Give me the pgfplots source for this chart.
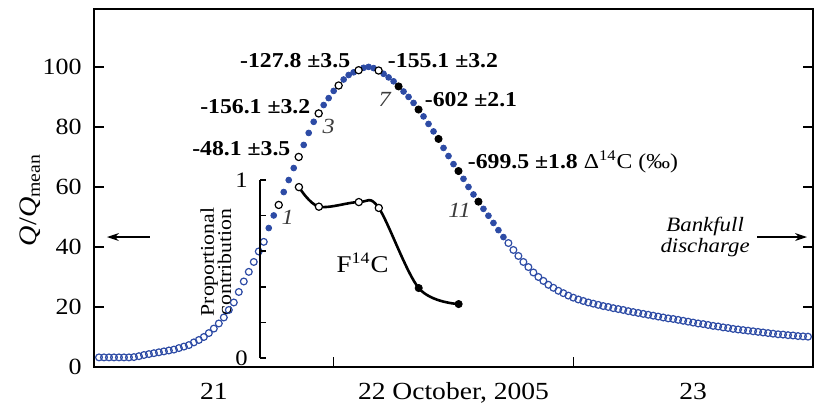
\documentclass[border=0pt]{standalone}
\usepackage{fontspec}
\setmainfont{Liberation Serif}[FakeStretch=1.12]
\usepackage{pgfplots}
\pgfplotsset{compat=1.18}
\usetikzlibrary{arrows.meta}
\definecolor{qblue}{RGB}{45,75,165}
\definecolor{lblgray}{RGB}{60,60,60}
\newcommand{\fs}[1]{\fontsize{#1}{#1}\selectfont}
\begin{document}
\begin{tikzpicture}
\begin{axis}[
  at={(0pt,0pt)}, anchor=south west,
  scale only axis, width=359.5pt, height=179pt,
  xmin=0, xmax=72, ymin=0, ymax=119.3,
  clip=false,
  axis line style={line width=0.9pt},
  tick align=inside,
  major tick length=5pt,
  tick style={line width=0.8pt, black},
  xtick={24,48}, xticklabels={},
  xtick pos=bottom,
  ytick={0,20,40,60,80,100},
  ytick pos=both, yticklabel pos=left,
  /pgf/number format/assume math mode=true,
  yticklabel style={font=\fs{11.6}, inner sep=0pt, xshift=-6pt},
]
% open circles (rising limb)
\addplot[only marks, mark=o, mark size=1.7pt, qblue, mark options={line width=0.6pt}] table {
0.5 3.2
1 3.2
1.5 3.2
2 3.2
2.5 3.2
3 3.2
3.5 3.2
4 3.3
4.5 3.6
5 4.0
5.5 4.3
6 4.6
6.5 4.9
7 5.2
7.5 5.5
8 5.8
8.5 6.3
9 6.8
9.5 7.3
10 8.2
10.5 9.0
11 10.0
11.5 11.3
12 12.8
12.5 14.5
13 16.5
13.5 19.0
14 21.5
14.5 25.0
15 28.5
15.5 31.7
16 35.0
16.5 38.5
17 41.7
};
% filled dots (peak)
\addplot[only marks, mark=*, mark size=1.45pt, qblue, mark options={draw=qblue, fill=qblue}] table {
17.5 46.3
18 50.5
18.5 54
19 58.3
19.5 62.3
20 66.3
20.5 70
21 74
21.5 78
22 81.7
22.5 84.5
23 87.3
23.5 89.6
24 92
24.5 93.8
25 95.8
25.5 97.3
26 98.2
26.5 98.9
27 99.7
27.5 100
28 99.6
28.5 98.8
29 97.7
29.5 96.5
30 95.2
30.5 93.5
31 91.8
31.5 90
32 88
32.5 85.8
33 83.5
33.5 81
34 78.5
34.5 76
35 73
35.5 70.3
36 67.6
36.5 65.3
37 62.7
37.5 60
38 57.5
38.5 55.1
39 52.7
39.5 50.4
40 48
40.5 45.6
41 43.3
};
% open circles (falling limb)
\addplot[only marks, mark=o, mark size=1.7pt, qblue, mark options={line width=0.6pt}] table {
41.5 41.3
42 39
42.5 37
43 35
43.5 33.3
44 31.5
44.5 30
45 28.7
45.5 27.4
46 26.4
46.5 25.4
47 24.6
47.5 23.8
48 23.1
48.5 22.5
49 22
49.5 21.5
50 21.1
50.5 20.7
51 20.3
51.5 20.0
52 19.6
52.5 19.3
53 19.0
53.5 18.6
54 18.3
54.5 18.0
55 17.7
55.5 17.4
56 17.1
56.5 16.8
57 16.5
57.5 16.2
58 16.0
58.5 15.7
59 15.4
59.5 15.1
60 14.8
60.5 14.5
61 14.3
61.5 14.0
62 13.7
62.5 13.5
63 13.2
63.5 13.0
64 12.7
64.5 12.5
65 12.3
65.5 12.1
66 11.9
66.5 11.7
67 11.5
67.5 11.3
68 11.1
68.5 10.9
69 10.8
69.5 10.6
70 10.5
70.5 10.3
71 10.2
71.5 10.1
};
% sampled points: open
\addplot[only marks, mark=*, mark size=1.8pt, mark options={draw=black, fill=white, line width=0.6pt}] table {
18.5 54
20.5 70
22.5 84.5
24.5 93.8
26.5 98.9
28.5 98.8
};
% sampled points: filled
\addplot[only marks, mark=*, mark size=1.8pt, mark options={draw=black, fill=black}] table {
30.5 93.5
32.5 85.8
34.5 76
36.5 65.3
38.5 55.1
};
% x labels
\node[anchor=base, font=\fs{12.3}] at (axis cs:12,0) [yshift=-16.5pt] {21};
\node[anchor=base, font=\fs{12.3}] at (axis cs:36,0) [yshift=-16.5pt] {22 October, 2005};
\node[anchor=base, font=\fs{12.3}] at (axis cs:60,0) [yshift=-16.5pt] {23};
% y label
\node[rotate=90, font=\fs{12.6}] at (axis cs:-6.4,55.7) {\textit{Q}/\textit{Q}\textsubscript{mean}};
% annotations
\node[anchor=west, font=\fs{10.6}\bfseries, inner sep=0pt] at (axis cs:14.6,102) {-127.8 ±3.5};
\node[anchor=west, font=\fs{10.6}\bfseries, inner sep=0pt] at (axis cs:29.4,102) {-155.1 ±3.2};
\node[anchor=west, font=\fs{10.6}\bfseries, inner sep=0pt] at (axis cs:10.6,86.7) {-156.1 ±3.2};
\node[anchor=west, font=\fs{10.6}\bfseries, inner sep=0pt] at (axis cs:9.8,72.7) {-48.1 ±3.5};
\node[anchor=west, font=\fs{10.6}\bfseries, inner sep=0pt] at (axis cs:33.1,89) {-602 ±2.1};
\node[anchor=west, font=\fs{10.6}, inner sep=0pt] at (axis cs:37.4,68.5) {\textbf{-699.5 ±1.8} Δ\textsuperscript{14}C (‰)};
\node[font=\fs{10.8}\itshape, text=lblgray] at (axis cs:19.4,50) {1};
\node[font=\fs{10.8}\itshape, text=lblgray] at (axis cs:23.5,80) {3};
\node[font=\fs{10.8}\itshape, text=lblgray] at (axis cs:29.1,89) {7};
\node[font=\fs{10.8}\itshape, text=lblgray] at (axis cs:36.6,52.3) {11};
\node[font=\fs{12}] at (axis cs:26.9,34.7) {F\textsuperscript{14}C};
\node[font=\fs{10.2}\itshape, align=center] at (axis cs:61.2,43.3) {Bankfull\\discharge};
\draw[-{Stealth[length=6pt,width=4pt]}, line width=0.6pt] (axis cs:66.4,43.3) -- (axis cs:71.4,43.3);
\draw[-{Stealth[length=6pt,width=4pt]}, line width=0.6pt] (axis cs:5.6,43.3) -- (axis cs:1.3,43.3);
\node[rotate=90, font=\fs{9.7}, align=center, inner sep=0pt] at (axis cs:12.2,35) {Proportional\\[-1pt]contribution};
\end{axis}
\begin{axis}[
  at={(83pt,4.5pt)}, anchor=south west,
  scale only axis, width=276.5pt, height=89pt,
  xmin=16.6, xmax=72, ymin=0, ymax=1,
  clip=false,
  axis x line=none, axis y line*=left,
  axis line style={line width=0.8pt},
  tick align=inside,
  major tick length=3pt,
  tick style={line width=0.8pt, black},
  ytick={0,0.2,0.4,0.6,0.8,1}, yticklabels={0,,,,,1},
  yticklabel style={font=\fs{11}, inner sep=0pt, xshift=-6pt},
]
\addplot[black, line width=1.3pt, smooth, tension=0.55] table {
20.5 0.96
22.5 0.85
26.5 0.876
28.5 0.843
32.5 0.393
36.5 0.303
};
\addplot[only marks, mark=*, mark size=1.8pt, mark options={draw=black, fill=white, line width=0.6pt}] table {
20.5 0.96
22.5 0.85
26.5 0.876
28.5 0.843
};
\addplot[only marks, mark=*, mark size=1.8pt, mark options={draw=black, fill=black}] table {
32.5 0.393
36.5 0.303
};
\end{axis}
\pgfresetboundingbox
\path[use as bounding box] (-47pt,-21.5pt) rectangle (365.5pt,183.5pt);
\end{tikzpicture}
\end{document}
